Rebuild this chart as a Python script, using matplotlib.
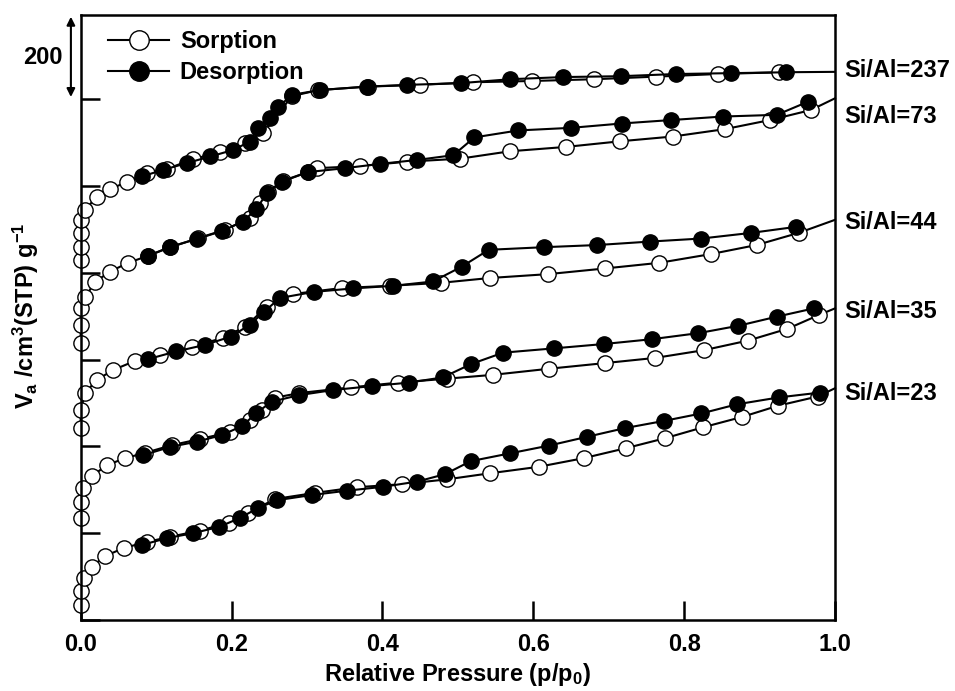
import numpy as np
import matplotlib

matplotlib.use("Agg")

import matplotlib.pyplot as plt
from matplotlib.lines import Line2D
from matplotlib.transforms import blended_transform_factory

plt.rcParams["font.family"] = ["Liberation Sans", "DejaVu Sans"]
plt.rcParams["font.weight"] = "bold"
plt.rcParams["mathtext.default"] = "regular"

SAMPLES = ["Si/Al=237", "Si/Al=73", "Si/Al=44", "Si/Al=35", "Si/Al=23"]

# Si/Al = 237
P_ADS_237 = [0.0, 0.0, 0.0, 0.0003, 0.006, 0.021, 0.039, 0.061, 0.088, 0.114, 0.149, 0.185,
             0.218, 0.242, 0.280, 0.315, 0.381, 0.450, 0.520, 0.599, 0.681, 0.763, 0.845, 0.926]
V_ADS_237 = [829, 859, 892, 922, 945, 975, 993, 1009, 1030, 1039, 1062, 1078,
             1099, 1122, 1207, 1221, 1229, 1233, 1239, 1242, 1246, 1252, 1258, 1262]
P_DES_237 = [0.935, 0.862, 0.789, 0.716, 0.640, 0.569, 0.504, 0.433, 0.379, 0.317, 0.280,
             0.262, 0.251, 0.235, 0.224, 0.202, 0.172, 0.141, 0.109, 0.081]
V_DES_237 = [1262, 1260, 1258, 1253, 1251, 1246, 1237, 1233, 1229, 1221, 1210,
             1182, 1157, 1134, 1102, 1083, 1068, 1053, 1037, 1022]
V_END_237 = 1263

# Si/Al = 73
P_ADS_73 = [0.0, 0.0, 0.0, 0.006, 0.019, 0.039, 0.063, 0.089, 0.119, 0.156, 0.191, 0.224,
            0.238, 0.248, 0.268, 0.301, 0.313, 0.370, 0.433, 0.503, 0.569, 0.643, 0.715,
            0.785, 0.854, 0.914, 0.968]
V_ADS_73 = [638, 680, 719, 744, 779, 803, 823, 839, 859, 880, 899, 926,
            961, 986, 1012, 1032, 1041, 1046, 1056, 1063, 1080, 1090, 1103,
            1114, 1131, 1152, 1175]
P_DES_73 = [0.964, 0.923, 0.851, 0.783, 0.717, 0.650, 0.580, 0.522, 0.494, 0.446, 0.397,
            0.350, 0.301, 0.267, 0.247, 0.233, 0.215, 0.187, 0.154, 0.119, 0.089]
V_DES_73 = [1194, 1164, 1160, 1152, 1144, 1134, 1128, 1112, 1071, 1060, 1051,
            1041, 1032, 1010, 984, 947, 918, 896, 878, 860, 839]
V_END_73 = 1202

# Si/Al = 44
P_ADS_44 = [0.0, 0.0, 0.006, 0.021, 0.043, 0.072, 0.105, 0.147, 0.189, 0.218, 0.247, 0.281,
            0.346, 0.410, 0.478, 0.542, 0.620, 0.695, 0.767, 0.835, 0.896, 0.952]
V_ADS_44 = [442, 484, 523, 553, 576, 597, 611, 630, 650, 676, 722, 751,
            765, 770, 777, 788, 797, 810, 823, 843, 864, 892]
P_DES_44 = [0.949, 0.889, 0.823, 0.755, 0.685, 0.614, 0.541, 0.505, 0.467, 0.414, 0.361,
            0.309, 0.264, 0.243, 0.224, 0.199, 0.165, 0.127, 0.089]
V_DES_44 = [906, 892, 879, 872, 864, 859, 853, 814, 780, 770, 764,
            756, 742, 710, 680, 653, 634, 619, 601]
V_END_44 = 922

# Si/Al = 35
P_ADS_35 = [0.0, 0.0, 0.003, 0.015, 0.035, 0.059, 0.085, 0.121, 0.158, 0.198, 0.225, 0.240,
            0.257, 0.290, 0.358, 0.421, 0.485, 0.547, 0.621, 0.695, 0.762, 0.827, 0.885,
            0.937, 0.979]
V_ADS_35 = [235, 273, 304, 332, 357, 373, 385, 403, 417, 433, 461, 484,
            512, 523, 536, 547, 556, 565, 579, 592, 604, 622, 644,
            671, 703]
P_DES_35 = [0.972, 0.923, 0.872, 0.819, 0.757, 0.694, 0.628, 0.560, 0.518, 0.480, 0.435,
            0.386, 0.335, 0.289, 0.253, 0.233, 0.214, 0.187, 0.154, 0.119, 0.083]
V_DES_35 = [718, 699, 678, 661, 647, 636, 626, 616, 590, 559, 547,
            539, 530, 518, 503, 477, 447, 426, 411, 399, 380]
V_END_35 = 718

# Si/Al = 23
P_ADS_23 = [0.0, 0.0, 0.004, 0.015, 0.032, 0.057, 0.088, 0.119, 0.158, 0.196, 0.222, 0.258,
            0.311, 0.366, 0.426, 0.485, 0.542, 0.607, 0.667, 0.723, 0.775, 0.825, 0.877,
            0.925, 0.977]
V_ADS_23 = [35, 68, 97, 123, 147, 166, 180, 192, 206, 224, 247, 279,
            293, 306, 313, 324, 338, 353, 373, 396, 419, 444, 468,
            494, 515]
P_DES_23 = [0.980, 0.926, 0.870, 0.823, 0.774, 0.721, 0.671, 0.621, 0.569, 0.517, 0.483,
            0.446, 0.401, 0.353, 0.306, 0.260, 0.235, 0.211, 0.184, 0.149, 0.115, 0.081]
V_DES_23 = [524, 513, 497, 476, 459, 442, 422, 402, 384, 366, 336,
            319, 307, 298, 288, 276, 258, 235, 215, 200, 189, 173]
V_END_23 = 534

LABEL_Y = [1265, 1159, 917, 712, 523]

ADS = [(P_ADS_237, V_ADS_237, V_END_237), (P_ADS_73, V_ADS_73, V_END_73),
       (P_ADS_44, V_ADS_44, V_END_44), (P_ADS_35, V_ADS_35, V_END_35),
       (P_ADS_23, V_ADS_23, V_END_23)]
DES = [(P_DES_237, V_DES_237), (P_DES_73, V_DES_73), (P_DES_44, V_DES_44),
       (P_DES_35, V_DES_35), (P_DES_23, V_DES_23)]

fig = plt.figure(figsize=(9.55, 6.91), dpi=100)
ax = fig.add_axes([0.0845, 0.1027, 0.7898, 0.8756])

ms = 11
for (p, v, v_end), (pd_, vd) in zip(ADS, DES):
    ax.plot(np.append(p, 1.0), np.append(v, v_end), color="black", linewidth=1.5,
            marker="o", markevery=list(range(len(p))), markersize=ms,
            markerfacecolor="white", markeredgecolor="black", markeredgewidth=1.0,
            zorder=2, clip_on=False)
    ax.plot(pd_, vd, color="black", linewidth=1.5, marker="o", markersize=ms,
            markerfacecolor="black", markeredgecolor="black", zorder=3, clip_on=False)

trans = blended_transform_factory(ax.transAxes, ax.transData)
for name, y in zip(SAMPLES, LABEL_Y):
    ax.text(1.013, y, name, transform=trans, ha="left", va="center",
            fontsize=17, fontweight="bold", clip_on=False)

# scale bar
ax.annotate("", xy=(-0.013, 1390), xytext=(-0.013, 1205), xycoords=trans, textcoords=trans,
            arrowprops=dict(arrowstyle="<|-|>", color="black", lw=1.5, shrinkA=0, shrinkB=0,
                            mutation_scale=12), annotation_clip=False)
ax.text(-0.05, 1297, "200", transform=trans, ha="center", va="center",
        fontsize=17, fontweight="bold")

ax.set_xlim(0, 1.0)
ax.set_ylim(0, 1394)
ax.set_xticks([0.0, 0.2, 0.4, 0.6, 0.8, 1.0])
ax.set_xticklabels(["0.0", "0.2", "0.4", "0.6", "0.8", "1.0"])
ax.set_yticks(range(0, 1201, 200))
ax.set_yticklabels([])
ax.tick_params(direction="in", length=14, width=1.8, labelsize=17, pad=9)
ax.tick_params(axis="y", right=False)
for spine in ax.spines.values():
    spine.set_linewidth(1.8)
    spine.set_zorder(4)

ax.set_xlabel("Relative Pressure (p/p$_0$)", fontsize=17, fontweight="bold")
ax.xaxis.set_label_coords(0.5, -0.068)
ax.set_ylabel("V$_a$ /cm$^3$(STP) g$^{-1}$", fontsize=17, fontweight="bold")
ax.yaxis.set_label_coords(-0.052, 0.502)

handles = [
    Line2D([], [], color="black", linewidth=1.5, marker="o", markersize=14,
           markerfacecolor="white", markeredgecolor="black"),
    Line2D([], [], color="black", linewidth=1.5, marker="o", markersize=14,
           markerfacecolor="black", markeredgecolor="black"),
]
ax.legend(handles, ["Sorption", "Desorption"], loc="upper left",
          bbox_to_anchor=(0.036, 0.975), frameon=False, borderpad=0, borderaxespad=0,
          handlelength=2.6, handletextpad=0.45, labelspacing=0.35,
          prop={"size": 17, "weight": "bold"})

fig.savefig("out.png", dpi=100)
